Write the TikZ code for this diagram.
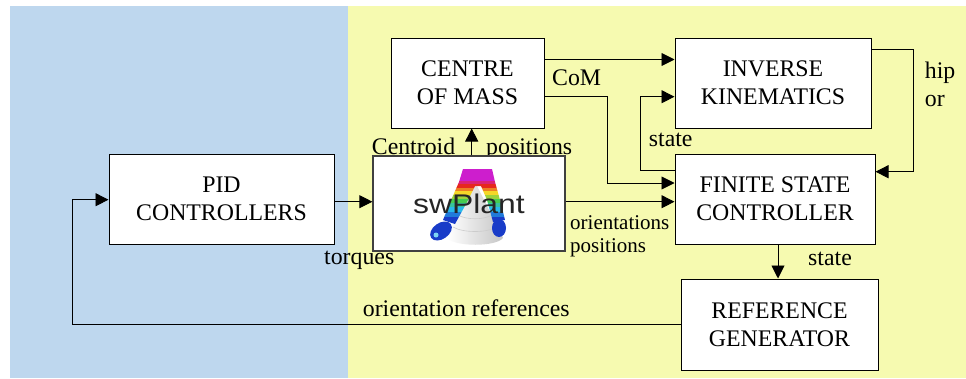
\documentclass[tikz,border=0pt]{standalone}
\usepackage{fontspec}
\setmainfont{Liberation Serif}
\newfontfamily\plantfont{Liberation Sans}
\usetikzlibrary{arrows.meta,calc}

% panel colours
\definecolor{leftbg}{RGB}{190,215,238}
\definecolor{rightbg}{RGB}{246,250,176}
% robot icon colours
\definecolor{legblue}{RGB}{25,60,200}
\definecolor{legcyan}{RGB}{40,185,235}
\definecolor{leggreen}{RGB}{70,205,80}
\definecolor{legyellow}{RGB}{245,215,40}
\definecolor{legred}{RGB}{230,40,30}
\definecolor{legmag}{RGB}{205,30,205}

\newcommand\dgmfont{\fontsize{23.8}{28}\selectfont}
\newcommand\dgmsmall{\fontsize{21}{23}\selectfont}

\begin{document}
\begin{tikzpicture}[x=1pt,y=-1pt,
  block/.style={draw=black,line width=1pt,fill=white,inner sep=0pt,
    font=\dgmfont,align=center},
  lbl/.style={inner sep=0pt,anchor=base west,font=\dgmfont},
  conn/.style={line width=0.9pt,-{Triangle[length=13pt,width=13pt]}}]

\useasboundingbox (0,0) rectangle (966,378);
\fill[white] (0,0) rectangle (966,378);
\fill[leftbg] (10,6) rectangle (348,378);
\fill[rightbg] (348,6) rectangle (966,378);

% signal labels
\node[lbl] (lcom) at (552,85) {CoM};
\node[lbl] (lcentroid) at (371.7,154.5) {Centroid};
\node[lbl] (lpos) at (486,154.5) {positions};
\node[lbl] (lstate1) at (648.7,146) {state};
\node[lbl] (lhip) at (924.7,78) {hip};
\node[lbl] (lor) at (924.7,106) {or};
\node[lbl] (ltorques) at (324,264.5) {torques};
\node[lbl,font=\dgmsmall] (lori) at (570,229.5) {orientations};
\node[lbl,font=\dgmsmall] (lpos2) at (570,252.5) {positions};
\node[lbl] (lstate2) at (808,265) {state};
\node[lbl] (lref) at (362.7,316) {orientation references};

% blocks
\node[block,minimum width=153pt,minimum height=90pt] (com) at (467.5,83) {CENTRE\\OF MASS};
\node[block,minimum width=196pt,minimum height=90pt] (ik) at (773,83) {INVERSE\\KINEMATICS};
\node[block,minimum width=200pt,minimum height=90pt] (fsc) at (775,199) {FINITE STATE\\CONTROLLER};
\node[block,minimum width=197pt,minimum height=91pt] (rg) at (779.5,324.5) {REFERENCE\\GENERATOR};
\node[block,minimum width=225pt,minimum height=90pt] (pid) at (221.5,199) {PID\\CONTROLLERS};
\node[block,draw=black!75,line width=1.3pt,minimum width=192pt,minimum height=95pt] (plant) at (469,203.5) {};

% plant icon: cone
\shade[left color=white,right color=gray!45] (474,180) -- (503,238)
  .. controls (496,247) and (455,247) .. (447,238) -- cycle;
\draw[gray!40,line width=0.6pt] (458,215) .. controls (466,220) and (484,220) .. (492,215);
\draw[gray!40,line width=0.6pt] (453,227) .. controls (463,233) and (487,233) .. (497,227);
% plant icon: legs, coloured in horizontal bands from top to bottom
\begin{scope}
  \clip (463,169) -- (492,169) -- (495,182) -- (500,200) -- (505,220)
    -- (493,222) -- (487,200) -- (481,186) -- (475,186) -- (466,204) -- (455,224)
    -- (443,220) -- (452,198) -- (459,182) -- cycle;
  \fill[legmag]                   (430,160) rectangle (515,181.3);
  \fill[legmag!50!legred]         (430,181) rectangle (515,184.3);
  \fill[legred]                   (430,184) rectangle (515,188.3);
  \fill[legred!50!legyellow]      (430,188) rectangle (515,191.3);
  \fill[legyellow]                (430,191) rectangle (515,195.3);
  \fill[legyellow!50!leggreen]    (430,195) rectangle (515,199.3);
  \fill[leggreen]                 (430,199) rectangle (515,203.3);
  \fill[leggreen!50!legcyan]      (430,203) rectangle (515,207.3);
  \fill[legcyan]                  (430,207) rectangle (515,212.3);
  \fill[legcyan!50!legblue]       (430,212) rectangle (515,217.3);
  \fill[legblue]                  (430,217) rectangle (515,245);
\end{scope}
% plant icon: feet
\fill[legblue,rotate around={35:(441,231)}] (441,231) ellipse [x radius=12, y radius=8];
\fill[legblue] (499,228) ellipse [x radius=7, y radius=9];
\fill[legcyan!60!white] (436,235) circle (2.5);
% plant icon: caption
\node[inner sep=0pt,anchor=base,text=black!85,font=\plantfont\fontsize{27}{27}\selectfont]
  (swtext) at (469,213.3) {\scalebox{1.18}[1]{swPlant}};

% helper points for bends
\coordinate (comik) at (0,59.5);
\coordinate (combend) at (607,96);
\coordinate (fscin) at (0,183);
\coordinate (statebend) at (640,96.7);
\coordinate (statey) at (0,170);
\coordinate (hipbend) at (913,49.3);
\coordinate (hipin) at (0,171.7);
\coordinate (plantline) at (0,201.7);
\coordinate (centx) at (471.7,0);
\coordinate (statedown) at (778,0);
\coordinate (refbend) at (72.7,324.3);
\coordinate (pidin) at (0,199.7);

% connectors
\draw[conn] (com.east |- comik) -- (ik.west |- comik);
\draw[conn] (com.east |- combend) -- (combend) |- (fsc.west |- fscin);
\draw[conn] (fsc.west |- statey) -| (statebend) -- (ik.west |- statebend);
\draw[conn] (ik.east |- hipbend) -- (hipbend) |- (fsc.east |- hipin);
\draw[conn] (pid.east |- plantline) -- (plant.west |- plantline);
\draw[conn] (plant.east |- plantline) -- (fsc.west |- plantline);
\draw[conn] (plant.north -| centx) -- (com.south -| centx);
\draw[conn] (fsc.south -| statedown) -- (rg.north -| statedown);
\draw[conn] (rg.west |- refbend) -- (refbend) |- (pid.west |- pidin);
\end{tikzpicture}
\end{document}
